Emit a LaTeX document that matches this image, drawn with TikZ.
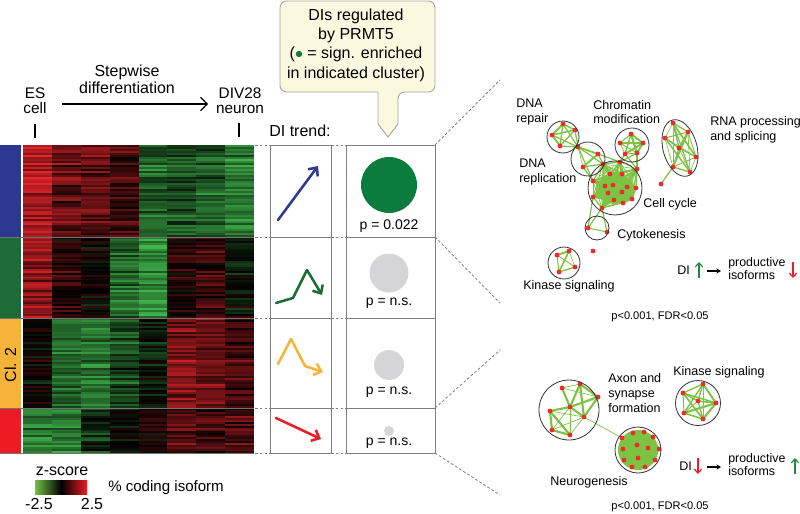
\documentclass[tikz,border=0pt]{standalone}
\usepackage{fontspec}
\setmainfont{Liberation Sans}
\usetikzlibrary{arrows.meta}
\pgfdeclarelayer{bg}
\pgfsetlayers{bg,main}

\definecolor{hmred}{HTML}{E8252B}
\definecolor{hmgreen}{HTML}{3FB54B}
\definecolor{clblue}{HTML}{2B3990}
\definecolor{clgreen}{HTML}{1D6B36}
\definecolor{clyellow}{HTML}{F6B33A}
\definecolor{clred}{HTML}{EC1C24}
\definecolor{sigfill}{HTML}{0B7B3E}
\definecolor{nsfill}{HTML}{D5D5D7}
\definecolor{netgreen}{HTML}{7DC242}
\definecolor{netred}{HTML}{EE2A2A}
\definecolor{boxgray}{HTML}{7F7F7F}
\definecolor{callfill}{HTML}{FBF8E0}
\definecolor{callline}{HTML}{A7A69C}
\definecolor{leggreen}{HTML}{74C046}

\newcommand\hmblock[3]{%
  \pgfmathtruncatemacro\hmrows{round((#2-#1)/2)}%
  \pgfmathsetmacro\hmh{(#2-#1)/\hmrows}%
  \foreach \hr in {1,...,\hmrows}{%
    \pgfmathsetmacro\hrn{0.45*rand}%
    \foreach \hmu [count=\hci from 0] in {#3}{%
      \pgfmathsetmacro\hv{\hmu+\hrn+0.5*rand}%
      \pgfmathtruncatemacro\hpc{min(100,abs(\hv)*42)}%
      \pgfmathtruncatemacro\hneg{\hv<0}%
      \ifnum\hneg=1 \def\hcol{hmgreen}\else\def\hcol{hmred}\fi
      \fill[\hcol!\hpc!black] ({23+\hci*28.875},{#1+(\hr-1)*\hmh}) rectangle +(29.3,\hmh+0.35);%
    }%
  }%
}

\newcommand\netclique[3]{%
  \foreach \px/\py [count=\ni] in {#2}{\coordinate (#1\ni) at (\px,\py); \xdef\netn{\ni}}%
  \begin{pgfonlayer}{bg}
  \foreach \ii in {1,...,\netn}{\foreach \jj in {1,...,\netn}{\ifnum\ii<\jj\relax
    \pgfmathsetmacro\lw{#3*(0.25+0.75*rnd)}%
    \draw[netedge, line width=\lw pt] (#1\ii) -- (#1\jj);\fi}}%
  \end{pgfonlayer}
  \foreach \ii in {1,...,\netn}{\fill[dot] (#1\ii) circle (2.4);}%
}

\begin{document}
\begin{tikzpicture}[x=0.75pt,y=-0.75pt,
  lbl/.style={inner sep=0pt, font=\fontsize{12}{13}\selectfont, align=center},
  netlbl/.style={inner sep=0pt, font=\fontsize{9.4}{11.2}\selectfont, align=left, anchor=west},
  pval/.style={inner sep=0pt, font=\fontsize{10.5}{12}\selectfont},
  stat/.style={inner sep=0pt, font=\fontsize{8.3}{9}\selectfont},
  panel/.style={draw=boxgray, line width=0.7pt},
  link/.style={draw=boxgray, dash pattern=on 2pt off 1.6pt, line width=0.6pt},
  trend/.style={line width=1.9pt, -{Straight Barb[length=5pt,width=9pt]}, line cap=round, line join=round},
  netedge/.style={draw=netgreen},
  ring/.style={draw=black!80, line width=0.6pt},
  dot/.style={fill=netred},
  smallarrow/.style={line width=0.9pt, -{Straight Barb[length=3pt,width=5.5pt]}},
]
\useasboundingbox (0,0) rectangle (800,514);

% ---------------- heatmap
\pgfmathsetseed{7}
\hmblock{145}{237}{1.8,1.0,1.0,0.6,-1.3,-1.0,-1.2,-1.7}
\hmblock{237}{318}{1.5,0.3,0.0,-1.4,-2.0,0.4,0.6,-0.2}
\hmblock{318}{408}{0.1,-1.3,-1.5,-0.9,-0.2,1.3,1.2,0.7}
\hmblock{408}{453}{-1.6,-1.5,-0.6,-0.1,0.3,0.9,0.7,0.8}

\fill[clblue] (0,145) rectangle (21,237);
\fill[clgreen] (0,237) rectangle (21,318);
\fill[clyellow] (0,318) rectangle (21,408);
\fill[clred] (0,408) rectangle (21,453);
\node[lbl, rotate=90] (cl2) at (10.5,365) {Cl. 2};
\foreach \yy in {237,318,408,453} \draw[black!55, line width=0.6pt] (0,\yy) -- (254,\yy);

% ---------------- top labels
\node[lbl, font=\fontsize{11.5}{11.5}\selectfont] (es) at (35,101) {ES\\cell};
\node[lbl, font=\fontsize{11.5}{11.5}\selectfont] (div) at (240,101) {DIV28\\neuron};
\node[lbl, font=\fontsize{12}{12.75}\selectfont] (step) at (127,79) {Stepwise\\differentiation};
\coordinate (sa) at (62,104);
\coordinate (sb) at (208,104);
\draw[line width=0.9pt, -{Straight Barb[length=5pt,width=10pt]}] (sa) -- (sb);
\coordinate (t1a) at (35,124); \coordinate (t1b) at (35,138);
\coordinate (t2a) at (239,123); \coordinate (t2b) at (239,137);
\draw[line width=0.8pt] (t1a) -- (t1b);
\draw[line width=0.8pt] (t2a) -- (t2b);
\node[lbl] (ditrend) at (300,131) {DI trend:};

% ---------------- callout
\draw[fill=callfill, draw=callline, line width=0.7pt, rounded corners=5pt]
  (330,92) -- (280,92) -- (280,1) -- (435,1) -- (435,92) -- (398,92) [sharp corners]
  -- (398,124) -- (388,137) -- (378,124) -- (378,92) -- cycle;
\node[lbl, font=\fontsize{12}{14.5}\selectfont] (callout) at (356,45)
  {DIs regulated\\by PRMT5\\(\textcolor{sigfill}{$\bullet$} = sign. enriched\\in indicated cluster)};

% ---------------- panels
\draw[panel] (270,145) rectangle (331,453);
\foreach \yy in {237,318,408} \draw[panel] (270,\yy) -- (331,\yy);
\draw[panel] (346,145) rectangle (435,453);
\foreach \yy in {237,318,408} \draw[panel] (346,\yy) -- (435,\yy);
\foreach \yy in {145,237,318,408,453}{\draw[link] (255,\yy) -- (270,\yy); \draw[link] (331,\yy) -- (346,\yy);}

% trend arrows
\coordinate (b1) at (278,220); \coordinate (b2) at (318,166);
\draw[trend, clblue] (b1) -- (b2);
\coordinate (g1) at (276,303); \coordinate (g2) at (293,298);
\coordinate (g3) at (307,270); \coordinate (g4) at (322,295);
\draw[trend, clgreen] (g1) -- (g2) -- (g3) -- (g4);
\coordinate (y1) at (278,364); \coordinate (y2) at (291,339);
\coordinate (y3) at (305,366); \coordinate (y4) at (323,372);
\draw[trend, clyellow] (y1) -- (y2) -- (y3) -- (y4);
\coordinate (r1) at (276,418); \coordinate (r2) at (321,439);
\draw[trend, clred] (r1) -- (r2);

% enrichment circles
\fill[sigfill] (389,185) circle (28);
\node[pval] (p1) at (389,226) {p = 0.022};
\fill[nsfill] (389,273) circle (19.5);
\node[pval] (p2) at (389,303) {p = n.s.};
\fill[nsfill] (389,365) circle (15);
\node[pval] (p3) at (389,392) {p = n.s.};
\fill[nsfill] (389,431) circle (5);
\node[pval] (p4) at (389,443) {p = n.s.};

% dashed zoom lines
\coordinate (c1) at (435,145); \coordinate (c2) at (435,237);
\coordinate (c3) at (435,408); \coordinate (c4) at (435,453);
\coordinate (e1) at (500,80); \coordinate (e2) at (500,303);
\coordinate (e3) at (500,350); \coordinate (e4) at (500,495);
\draw[link] (c1) -- (e1); \draw[link] (c2) -- (e2);
\draw[link] (c3) -- (e3); \draw[link] (c4) -- (e4);

% ---------------- top network
\begin{pgfonlayer}{bg}
\fill[netgreen!90] (615,189) ellipse (19 and 15);
\end{pgfonlayer}
\netclique{rp}{563/124, 575/130, 552/135, 560/146}{1.6}
\netclique{rl}{578/147, 598/154, 583/167}{1.6}
\netclique{ch}{631/134, 620/143, 643/143, 625/154, 637/153}{1.6}
\netclique{cc}{620/162, 637/169, 603/164, 610/174, 622/174, 593/181, 605/186, 613/185, 627/187, 636/188, 608/193, 622/192, 593/197, 614/200, 623/203, 632/199, 602/208}{1.1}
\netclique{rna}{673/123, 688/132, 665/138, 679/148, 696/157, 673/167, 690/172}{1.5}
\netclique{ck}{588/228, 607/232}{1.4}
\netclique{kt}{557/255, 569/251, 575/267, 559/272}{1.7}
\coordinate (lone1) at (661,184);
\coordinate (lone2) at (593,251);
\begin{pgfonlayer}{bg}
\foreach \a/\b in {rp1/rl1, rp2/rl1, rp3/rl1, rp4/rl1, rl1/cc3, rl2/cc3, rl3/cc3, rl3/cc6, rl2/cc1, rl1/cc6,
  ch4/cc1, ch5/cc1, ch4/cc2, ch5/cc2, rna6/lone1, cc17/ck1, cc17/ck2, cc13/ck1}
  \draw[netedge, line width=0.9pt] (\a) -- (\b);
\end{pgfonlayer}
\fill[dot] (lone1) circle (2.4);
\fill[dot] (lone2) circle (2.4);
\draw[ring] (563,137) circle (16);
\draw[ring] (588,159) circle (17);
\draw[ring] (632,145) circle (17);
\draw[ring] (615,188) circle (27);
\draw[ring, rotate around={15:(680,148)}] (680,148) ellipse (17 and 29);
\draw[ring] (597,228) circle (12);
\draw[ring] (564,263) circle (16);

\node[netlbl] (lrepair) at (516,112) {DNA\\repair};
\node[netlbl] (lchrom) at (593,112) {Chromatin\\modification};
\node[netlbl] (lrna) at (710,130) {RNA processing\\and splicing};
\node[netlbl] (lrepl) at (519,172) {DNA\\replication};
\node[netlbl] (lcc) at (643,204) {Cell cycle};
\node[netlbl] (lck) at (617,235) {Cytokenesis};
\node[netlbl] (lkt) at (523,286) {Kinase signaling};

\node[netlbl] (di1) at (677,270) {DI};
\coordinate (u1a) at (699,278); \coordinate (u1b) at (699,262);
\draw[smallarrow, sigfill!80!netgreen] (u1a) -- (u1b);
\coordinate (k1a) at (707,271); \coordinate (k1b) at (721,271);
\draw[line width=0.8pt, -{Stealth[length=3.5pt,width=4pt]}] (k1a) -- (k1b);
\node[netlbl, font=\fontsize{9.3}{8.2}\selectfont] (prod1) at (728,269) {productive\\isoforms};
\coordinate (d1a) at (793,262); \coordinate (d1b) at (793,278);
\draw[smallarrow, clred] (d1a) -- (d1b);
\node[stat] (stat1) at (660,317) {p<0.001, FDR<0.05};

% ---------------- bottom network
\begin{pgfonlayer}{bg}
\fill[netgreen] (638,450) circle (20);
\end{pgfonlayer}
\netclique{ng}{622/438, 633/433, 644/432, 653/437, 659/449, 623/449, 637/445, 648/448, 638/458, 624/460, 632/467, 645/467, 655/460}{1.0}
\netclique{kb}{703/384, 683/393, 698/401, 716/403, 684/413, 703/419}{1.6}
\foreach \px/\py [count=\ni] in {562/388, 580/384, 598/397, 570/407, 550/411, 584/417, 552/430, 570/435}
  \coordinate (ax\ni) at (\px,\py);
\begin{pgfonlayer}{bg}
\foreach \a/\b in {ax2/ax4, ax2/ax6, ax2/ax3, ax3/ax4, ax4/ax6, ax3/ax6, ax1/ax4, ax5/ax7, ax5/ax8, ax7/ax8, ax5/ax4}
  \draw[netedge, line width=1.6pt] (\a) -- (\b);
\foreach \a/\b in {ax5/ax6, ax7/ax6, ax8/ax6, ax1/ax2, ax7/ax4, ax8/ax4, ax1/ax3, ax6/ng1}
  \draw[netedge, line width=0.5pt] (\a) -- (\b);
\end{pgfonlayer}
\foreach \i in {1,...,8} \fill[dot] (ax\i) circle (2.4);
\draw[ring] (569,410) circle (30);
\draw[ring] (638,450) circle (23);
\draw[ring] (698,403) circle (22.5);

\node[netlbl] (laxon) at (608,393) {Axon and\\synapse\\formation};
\node[netlbl] (lkb) at (673,372) {Kinase signaling};
\node[netlbl] (lng) at (550,482) {Neurogenesis};

\node[netlbl] (di2) at (679,466) {DI};
\coordinate (d2a) at (698,458); \coordinate (d2b) at (698,474);
\draw[smallarrow, clred] (d2a) -- (d2b);
\coordinate (k2a) at (707,467); \coordinate (k2b) at (721,467);
\draw[line width=0.8pt, -{Stealth[length=3.5pt,width=4pt]}] (k2a) -- (k2b);
\node[netlbl, font=\fontsize{9.3}{8.2}\selectfont] (prod2) at (728,465) {productive\\isoforms};
\coordinate (u2a) at (795,474); \coordinate (u2b) at (795,458);
\draw[smallarrow, sigfill!80!netgreen] (u2a) -- (u2b);
\node[stat] (stat2) at (660,507) {p<0.001, FDR<0.05};

% ---------------- legend
\node[lbl] (zs) at (62,471) {z-score};
\shade[left color=leggreen, right color=clred, middle color=black] (35,480) rectangle (87,494);
\node[lbl] (lo) at (39,504) {-2.5};
\node[lbl] (hi) at (92,504) {2.5};
\node[lbl, anchor=west, font=\fontsize{11.3}{13}\selectfont] (cod) at (108,488) {\% coding isoform};
\end{tikzpicture}
\end{document}
